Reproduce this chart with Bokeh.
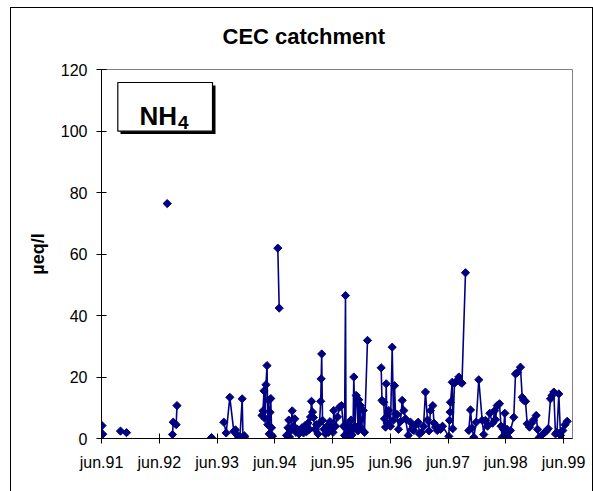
import math
from bokeh.plotting import figure
from bokeh.models import Range1d, FixedTicker, BoxAnnotation, Label, ColumnDataSource
from bokeh.embed import file_html
from bokeh.resources import INLINE

NaN = float("nan")

# ---------------- data ----------------
title_text = "CEC catchment"
y_label = "µeq/l"
species_main = "NH"
species_sub = "4"

tick_years = [1991, 1992, 1993, 1994, 1995, 1996, 1997, 1998, 1999]
tick_labels = ["jun.91", "jun.92", "jun.93", "jun.94", "jun.95",
               "jun.96", "jun.97", "jun.98", "jun.99"]
y_ticks = [0, 20, 40, 60, 80, 100, 120]

# sampling time (decimal year) and NH4 concentration (µeq/l); NaN = gap in series
sample_year = [
    1991.423, 1991.436, NaN,
    1991.743, 1991.847, NaN,
    1992.552, NaN,
    1992.643, 1992.656, 1992.707, 1992.721, NaN,
    1993.319, NaN,
    1993.532, 1993.573, 1993.636, 1993.705, 1993.734, 1993.760, 1993.792,
    1993.812, 1993.850, 1993.864, 1993.885, 1993.895, NaN,
    1994.193, 1994.210, 1994.228, 1994.245, 1994.262, 1994.280, 1994.294,
    1994.306, 1994.318, 1994.332, 1994.345, 1994.358, 1994.375, NaN,
    1994.467, 1994.491, NaN,
    1994.617, 1994.643, 1994.657, 1994.669, 1994.687, 1994.716, 1994.739,
    1994.761, 1994.782, 1994.808, 1994.834, 1994.860, 1994.886, 1994.912,
    1994.938, 1994.964, 1994.990, 1995.016, 1995.033, 1995.050, 1995.068,
    1995.085, 1995.111, 1995.137, 1995.163, 1995.189, 1995.210, 1995.218,
    1995.227, 1995.241, 1995.267, 1995.293, 1995.319, 1995.345, 1995.371,
    1995.397, 1995.423, 1995.436, 1995.466, 1995.501, 1995.535, 1995.570,
    1995.604, 1995.622, 1995.639, 1995.648, 1995.665, 1995.682, 1995.700,
    1995.717, 1995.734, 1995.752, 1995.769, 1995.783, 1995.804, 1995.824,
    1995.842, 1995.856, 1995.869, 1995.882, 1995.899, 1995.916, 1995.946,
    1995.968, 1996.020, NaN,
    1996.257, 1996.271, 1996.302, 1996.314, 1996.332, 1996.344, 1996.358,
    1996.389, 1996.418, 1996.448, 1996.470, 1996.488, 1996.505, 1996.534,
    1996.557, 1996.591, 1996.621, 1996.649, 1996.678, 1996.725, 1996.765,
    1996.791, 1996.822, 1996.860, 1996.898, 1996.920, 1996.955, 1996.990,
    1997.024, 1997.059, 1997.085, 1997.111, 1997.151, 1997.172, 1997.198,
    1997.227, 1997.249, 1997.284, 1997.319, 1997.428, 1997.440, 1997.449,
    1997.457, 1997.487, 1997.497, 1997.527, 1997.573, 1997.601, 1997.630,
    1997.656, 1997.717, NaN,
    1997.774, 1997.804, 1997.830, 1997.861, 1997.902, 1997.947, 1998.006,
    1998.034, 1998.063, 1998.098, 1998.138, 1998.185, 1998.224, 1998.236,
    1998.266, 1998.306, 1998.332, 1998.352, 1998.375, 1998.398, 1998.410,
    1998.436, 1998.456, 1998.496, 1998.553, 1998.583, 1998.617, 1998.669,
    1998.699, 1998.721, 1998.756, 1998.785, 1998.825, 1998.860, 1998.894,
    1998.941, 1998.964, 1998.986, 1999.033, 1999.059, 1999.090, 1999.120,
    1999.149, 1999.189, 1999.215, 1999.246, 1999.275, 1999.301, 1999.333,
    1999.362, 1999.402, 1999.440, 1999.478,
]

nh4 = [
    4.2, 1.4, NaN,
    2.4, 1.9, NaN,
    76.4, NaN,
    1.3, 5.3, 4.5, 10.7, NaN,
    0.3, NaN,
    5.3, 1.8, 13.4, 2.3, 2.8, 1.2, 0.4,
    0.6, 12.9, 0.6, 0.9, 0.6, NaN,
    7.5, 9.0, 15.5, 6.5, 17.5, 23.7, 4.5,
    12.5, 1.5, 8.5, 13.0, 3.5, 0.8, NaN,
    61.9, 42.4, NaN,
    1.0, 3.5, 6.0, 0.5, 2.5, 9.0, 4.0,
    6.4, 2.0, 3.0, 1.5, 2.5, 3.5, 1.8,
    4.2, 2.2, 5.0, 3.0, 7.0, 12.1, 8.6,
    6.8, 3.0, 4.5, 1.5, 5.0, 12.1, 19.4,
    27.5, 5.9, 3.0, 1.5, 4.0, 2.0, 5.5,
    3.5, 2.0, 9.1, 4.0, 7.0, 10.2, 10.7,
    4.0, 1.0, 46.5, 0.8, 4.5, 0.8, 3.5,
    2.0, 6.0, 1.2, 3.0, 20.0, 4.0, 14.0,
    12.9, 2.5, 12.6, 4.0, 10.7, 3.0, 9.1,
    2.0, 31.9, NaN,
    23.0, 12.4, 11.8, 6.4, 3.7, 17.8, 5.0,
    9.1, 4.0, 29.7, 6.0, 17.2, 8.0, 7.8,
    3.0, 5.5, 12.4, 9.1, 6.4, 1.0, 5.3,
    3.0, 2.6, 4.5, 5.3, 1.5, 2.0, 4.0,
    15.1, 6.0, 2.5, 9.1, 10.7, 5.0, 3.7,
    2.6, 3.5, 3.0, 4.0, 0.7, 5.9, 8.6,
    11.8, 18.3, 3.2, 18.0, 18.9, 20.0, 18.3,
    18.0, 53.9, NaN,
    2.6, 9.3, 3.5, 0.4, 5.3, 19.1, 5.9,
    1.3, 5.9, 4.0, 8.2, 5.0, 9.1, 6.1,
    10.7, 11.3, 4.0, 0.4, 3.0, 8.2, 1.5,
    3.0, 0.4, 2.6, 6.9, 21.0, 21.5, 23.2,
    13.4, 12.5, 12.1, 4.8, 3.7, 5.0, 6.0,
    7.5, 3.0, 0.2, 1.0, 1.5, 2.0, 2.5,
    3.2, 12.9, 14.0, 15.1, 1.5, 2.0, 14.5,
    1.0, 2.6, 4.5, 5.6,
]

# ---------------- layout ----------------
W, H = 593, 491
BL, BR, BT, BB = 101, 21, 69, 53          # borders around plot frame
FRAME_W = W - BL - BR
FRAME_H = H - BT - BB
X0 = tick_years[0] + 0.414                # 1 June 1991
X1 = X0 + FRAME_W / 57.75                 # ~57.75 px per year
Y0, Y1 = 0, 120

def page_x(px):
    return X0 + (px - BL) / FRAME_W * (X1 - X0)

def page_y(py):
    return Y0 + (BT + FRAME_H - py) / FRAME_H * (Y1 - Y0)

NAVY = "#000080"
FONT = "Liberation Sans"

p = figure(width=W, height=H, output_backend="svg", toolbar_location=None,
           x_range=Range1d(X0, X1), y_range=Range1d(Y0, Y1),
           min_border_left=BL, min_border_right=BR,
           min_border_top=BT, min_border_bottom=BB,
           title=title_text, background_fill_color="white",
           border_fill_color=None)

# outer chart-area border (drawn as CSS inset shadows on the figure host)
p.styles = {
    "box-shadow": ("inset 10px 0 0 0 #ffffff, inset 0 7px 0 0 #ffffff, "
                   "inset 11px 0 0 0 #000000, inset 0 8px 0 0 #000000, "
                   "inset -1px 0 0 0 #000000"),
}

p.title.text_font = FONT
p.title.text_font_size = "22px"
p.title.text_font_style = "bold"
p.title.text_color = "black"
p.title.align = "left"
p.title.offset = 121
p.title.standoff = 41

p.grid.visible = False
p.outline_line_color = "#808080"
p.outline_line_width = 1

tick_pos = [y + 0.414 for y in tick_years]
p.xaxis.ticker = FixedTicker(ticks=tick_pos)
p.xaxis.major_label_overrides = {t: l for t, l in zip(tick_pos, tick_labels)}
p.yaxis.ticker = FixedTicker(ticks=y_ticks)

for ax in (p.xaxis[0], p.yaxis[0]):
    ax.axis_line_color = "black"
    ax.axis_line_width = 1
    ax.major_tick_line_color = "black"
    ax.major_tick_in = 5
    ax.major_tick_out = 5
    ax.minor_tick_line_color = None
    ax.major_label_text_font = FONT
    ax.major_label_text_font_size = "16px"
    ax.major_label_text_color = "black"

p.xaxis.major_label_standoff = 10
p.yaxis.major_label_standoff = 9
p.yaxis.axis_label = y_label
p.yaxis.axis_label_text_font = FONT
p.yaxis.axis_label_text_font_size = "18px"
p.yaxis.axis_label_text_font_style = "bold"
p.yaxis.axis_label_text_color = "black"
p.yaxis.axis_label_standoff = 10

src = ColumnDataSource(dict(x=sample_year, y=nh4))
p.line("x", "y", source=src, line_color=NAVY, line_width=1.6)
p.scatter("x", "y", source=src, marker="square", angle=math.pi / 4, size=5.8,
          fill_color=NAVY, line_color=NAVY, line_width=1)

# species box with drop shadow
p.add_layout(BoxAnnotation(left=page_x(120), right=page_x(215), top=page_y(85),
                           bottom=page_y(133.5), fill_color="black", fill_alpha=1,
                           line_color=None))
p.add_layout(BoxAnnotation(left=page_x(117.3), right=page_x(212), top=page_y(82),
                           bottom=page_y(130.7), fill_color="white", fill_alpha=1,
                           line_color="black", line_alpha=1, line_width=1.2))
p.add_layout(Label(x=page_x(139), y=page_y(115), text=species_main,
                   text_font=FONT, text_font_size="26px", text_font_style="bold",
                   text_color="black", text_baseline="alphabetic", text_align="left"))
p.add_layout(Label(x=page_x(177.5), y=page_y(121.5), text=species_sub,
                   text_font=FONT, text_font_size="19px", text_font_style="bold",
                   text_color="black", text_baseline="alphabetic", text_align="left"))

open("out.html", "w").write(file_html(p, INLINE))
